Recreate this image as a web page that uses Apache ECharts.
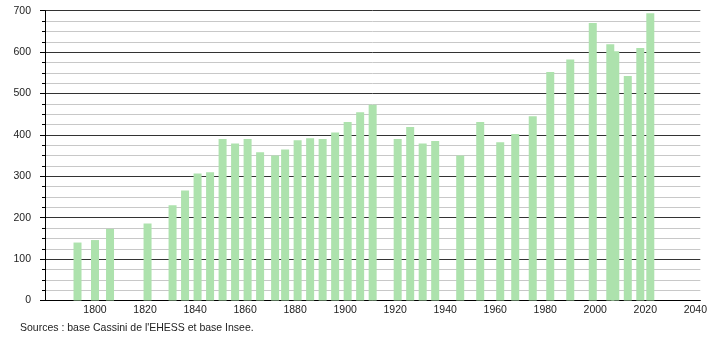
<!DOCTYPE html>
<html>
<head>
<meta charset="utf-8">
<script src="https://cdn.jsdelivr.net/npm/echarts@6/dist/echarts.min.js"></script>
<style>
html,body{margin:0;padding:0;background:#fff;}
#c{width:710px;height:340px;}
</style>
</head>
<body>
<div id="c"></div>
<script>
const years = [1793,1800,1806,1821,1831,1836,1841,1846,1851,1856,1861,1866,1872,1876,1881,1886,1891,1896,1901,1906,1911,1921,1926,1931,1936,1946,1954,1962,1968,1975,1982,1990,1999,2006,2008,2013,2018,2022];
const population = [140,146,173,186,230,266,307,310,390,379,390,358,350,365,387,392,390,406,431,455,473,390,419,379,385,350,431,382,402,445,552,582,670,619,602,542,610,694];
const yTicks = [0,100,200,300,400,500,600,700];
const xTickLabels = [1800,1820,1840,1860,1880,1900,1920,1940,1960,1980,2000,2020,2040];
const sourceText = "Sources : base Cassini de l'EHESS et base Insee.";

const chart = echarts.init(document.getElementById('c'), null, {renderer:'canvas'});
const font = 'Liberation Sans, Arial, sans-serif';
chart.setOption({
  animation:false,
  backgroundColor:'#fff',
  grid:{left:45, right:8, top:10.7, bottom:39.5},
  graphic:[{type:'text', left:20, top:323, style:{text:sourceText, font:'10.5px ' + font, fill:'#222'}}],
  xAxis:{
    type:'value', min:1780, max:2042, interval:20,
    axisLine:{show:true, lineStyle:{color:'#000', width:1}},
    axisTick:{show:false},
    splitLine:{show:false},
    axisLabel:{
      margin:4, fontSize:10.5, fontFamily:font, color:'#222',
      formatter:v => xTickLabels.includes(v) ? String(v) : ''
    }
  },
  yAxis:{
    type:'value', min:0, max:700, interval:100,
    axisLine:{show:true, lineStyle:{color:'#000', width:1}},
    axisTick:{show:true, length:5, lineStyle:{color:'#000'}},
    minorTick:{show:true, splitNumber:4, length:3, lineStyle:{color:'#000'}},
    splitLine:{show:true, lineStyle:{color:'#333', width:1}},
    minorSplitLine:{show:true, lineStyle:{color:'#c8c8c8', width:1}},
    axisLabel:{
      margin:14, fontSize:10.5, fontFamily:font, color:'#222',
      formatter:v => yTicks.includes(v) ? String(v) : ''
    }
  },
  series:[{
    type:'bar',
    barWidth:8,
    itemStyle:{color:'#ade2ad'},
    data: years.map((y,i)=>[y, population[i]])
  }]
});
</script>
</body>
</html>
